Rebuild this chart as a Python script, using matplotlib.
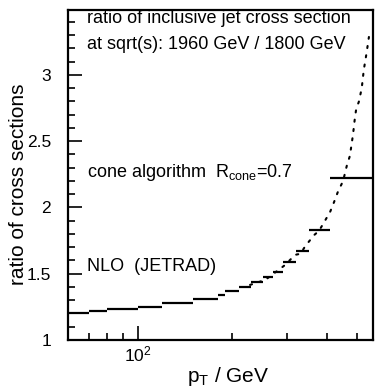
import matplotlib
matplotlib.use("Agg")
import matplotlib.pyplot as plt
from matplotlib.ticker import FixedLocator, NullFormatter, MultipleLocator

plt.rcParams['font.family'] = ['Liberation Sans', 'DejaVu Sans']
plt.rcParams['mathtext.fontset'] = 'custom'
plt.rcParams['mathtext.rm'] = 'Liberation Sans'
plt.rcParams['mathtext.it'] = 'Liberation Sans:italic'

# histogram bins (pT edges in GeV) and ratio values
bin_edges = [60, 70, 80, 100, 120, 150, 180, 190, 210, 230, 250, 270, 290, 320, 350, 410, 556]
bin_ratio = [1.206, 1.219, 1.232, 1.252, 1.278, 1.312, 1.34, 1.366, 1.40, 1.44, 1.478,
             1.515, 1.59, 1.67, 1.83, 2.225]

# fine NLO curve (dotted)
curve_pt = [228, 255, 295, 317, 330, 341, 351, 365, 378, 395, 410, 422, 434, 451,
            464, 474, 485, 492, 497, 506, 517, 525, 536, 545]
curve_ratio = [1.415, 1.453, 1.566, 1.642, 1.650, 1.704, 1.742, 1.792, 1.823, 1.90,
               1.966, 2.04, 2.117, 2.20, 2.32, 2.389, 2.55, 2.68, 2.75, 2.796, 2.90,
               3.04, 3.17, 3.287]

fig = plt.figure(figsize=(3.88, 3.88), dpi=100)
ax = fig.add_axes([0.175, 0.124, 0.786, 0.850])

ax.plot(curve_pt, curve_ratio, linestyle=(0, (1, 3.5)), color='black', linewidth=1.5,
        dash_capstyle='round')
ax.hlines(bin_ratio, bin_edges[:-1], bin_edges[1:], colors='black', linewidth=1.6)

ax.set_xscale('log')
ax.set_xlim(60, 561)
ax.set_ylim(1, 3.49)

ax.xaxis.set_major_locator(FixedLocator([100]))
ax.xaxis.set_minor_locator(FixedLocator([60, 70, 80, 90, 200, 300, 400, 500]))
ax.xaxis.set_minor_formatter(NullFormatter())
ax.set_xticks([100])
ax.set_xticklabels([r'$10^{2}$'])
ax.yaxis.set_major_locator(MultipleLocator(0.5))
ax.yaxis.set_minor_locator(MultipleLocator(0.1))
ax.set_yticks([1, 1.5, 2, 2.5, 3])
ax.set_yticklabels(['1', '1.5', '2', '2.5', '3'])

ax.tick_params(which='both', direction='in', top=False, right=False, labelsize=12.5, width=1.2)
ax.tick_params(which='major', length=10)
ax.tick_params(axis='y', which='major', pad=12)
ax.tick_params(axis='x', which='major', pad=3)
ax.tick_params(which='minor', length=5)
for s in ax.spines.values():
    s.set_linewidth(1.6)

ax.set_ylabel('ratio of cross sections', fontsize=15)
ax.yaxis.set_label_coords(-0.13, 0.473)
ax.set_xlabel(r'p$_{\rm T}$ / GeV', fontsize=15)
ax.xaxis.set_label_coords(0.525, -0.075)

tfs = 13
ax.text(0.062, 0.976, 'ratio of inclusive jet cross section', transform=ax.transAxes,
        fontsize=tfs, va='center', ha='left')
ax.text(0.062, 0.897, 'at sqrt(s): 1960 GeV / 1800 GeV', transform=ax.transAxes,
        fontsize=tfs, va='center', ha='left')
ax.text(0.062, 0.509, r'cone algorithm  R$_{\rm cone}$=0.7', transform=ax.transAxes,
        fontsize=tfs, va='center', ha='left')
ax.text(0.062, 0.224, 'NLO  (JETRAD)', transform=ax.transAxes,
        fontsize=tfs, va='center', ha='left')

fig.savefig('out.png', dpi=100)
